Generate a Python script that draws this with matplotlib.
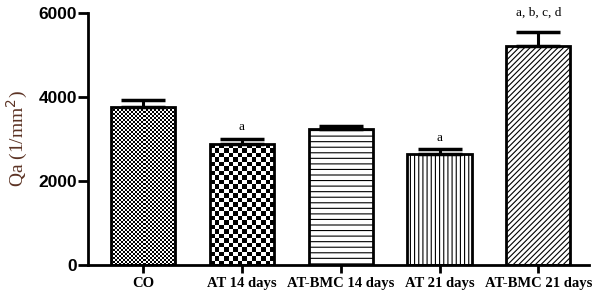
import matplotlib
matplotlib.use('Agg')
import matplotlib.pyplot as plt
import numpy as np

groups = ['CO', 'AT 14 days', 'AT-BMC 14 days', 'AT 21 days', 'AT-BMC 21 days']
means = [3760, 2880, 3240, 2640, 5210]
errs = [170, 120, 70, 120, 340]
marks = ['', 'a', '', 'a', 'a, b, c, d']
mark_pad = [0, 130, 0, 130, 320]

fig = plt.figure(figsize=(6.0, 2.94), dpi=100)
ax = fig.add_axes([0.147, 0.099, 0.835, 0.857])

x = np.arange(len(groups))
plt.rcParams['hatch.linewidth'] = 0.8
hatches = [None, None, '---', '||||', '//////']
faces = ['none', 'none', 'white', 'white', 'white']
bars = ax.bar(x, means, width=0.65, color='white', edgecolor='black',
              linewidth=2, zorder=2)
for b, h, f in zip(bars, hatches, faces):
    b.set_facecolor(f)
    if h:
        b.set_hatch(h)

# checkerboard fills for the first two bars (clipped to the bar)
checker_n = [(32, 79), (14, 27)]
for b, (nx, ny) in zip(bars[:2], checker_n):
    img = (np.indices((ny, nx)).sum(axis=0) % 2).astype(float)
    im = ax.imshow(img, cmap='gray', interpolation='nearest', aspect='auto',
                   extent=(b.get_x(), b.get_x() + b.get_width(), 0, b.get_height()),
                   zorder=1.5)
    im.set_clip_path(b)

ax.errorbar(x, means, yerr=[np.zeros(len(errs)), errs], fmt='none', ecolor='black',
            elinewidth=2.2, capsize=16, capthick=2.5, zorder=3)

for xi, m, e, t, p in zip(x, means, errs, marks, mark_pad):
    if t:
        ax.text(xi, m + e + p, t, ha='center', va='bottom',
                family='Liberation Serif', fontsize=9.5)

ax.set_xlim(-0.556, 4.515)
ax.set_ylim(0, 6000)
ax.set_yticks([0, 2000, 4000, 6000])
ax.set_xticks(x)
ax.set_xticklabels(groups, family='Liberation Serif', fontweight='bold', fontsize=10.5)
for lbl in ax.get_yticklabels():
    lbl.set_family('Liberation Sans')
    lbl.set_fontweight('bold')
    lbl.set_fontsize(12.5)
ax.tick_params(axis='y', length=7, width=2, pad=1)
ax.tick_params(axis='x', length=6, width=2, pad=3)
ax.spines['top'].set_visible(False)
ax.spines['right'].set_visible(False)
ax.spines['left'].set_linewidth(2)
ax.spines['bottom'].set_linewidth(2)
ax.set_ylabel('Qa (1/mm$^2$)', family='Liberation Serif', fontsize=14,
              color='#5c3324', labelpad=6)

fig.savefig('out.png', dpi=100)
